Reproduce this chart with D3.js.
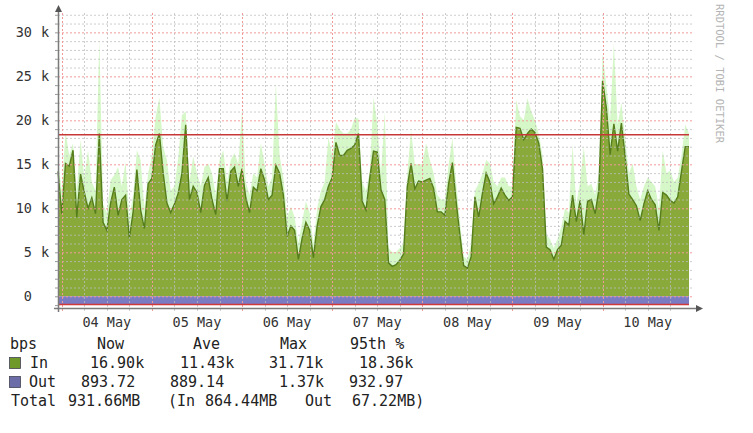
<!DOCTYPE html>
<html><head><meta charset="utf-8">
<script src="https://cdn.jsdelivr.net/npm/d3@7"></script>
<style>html,body{margin:0;padding:0;background:#fff;}svg{display:block;}</style>
</head><body>
<script>
// ---- data (values in kbps, hourly samples from 03 May 23:00) ----
const startTime = Date.UTC(2023, 4, 3, 23, 0);
const stepHours = 1;
const inAvg = [
 14.2, 9.4, 15.1, 14.8, 16.6, 9.0, 13.9, 11.8, 10.0, 11.2, 9.4, 18.5,
 8.4, 7.5, 10.6, 12.4, 9.2, 11.0, 11.5, 6.6, 9.6, 14.4, 9.8, 7.7,
 12.8, 13.4, 17.2, 18.5, 14.0, 10.6, 9.5, 10.5, 11.7, 14.0, 19.5, 11.0,
 12.5, 11.8, 9.5, 12.6, 13.5, 11.0, 9.3, 14.5, 14.5, 10.8, 14.2, 14.7,
 12.5, 14.5, 11.2, 9.5, 12.4, 12.0, 14.5, 13.2, 11.0, 11.5, 14.9, 14.0,
 11.5, 6.8, 8.0, 7.5, 4.2, 6.6, 8.4, 7.5, 4.4, 8.0, 10.2, 11.0,
 12.5, 13.5, 17.5, 16.0, 16.0, 16.6, 16.8, 17.2, 18.5, 10.8, 9.8, 13.4,
 16.5, 16.4, 12.1, 11.0, 3.8, 3.4, 3.6, 4.1, 4.8, 12.5, 15.1, 12.2,
 13.1, 13.0, 13.2, 13.4, 12.3, 9.6, 9.6, 9.2, 12.8, 15.2, 10.8, 7.0,
 3.5, 3.2, 4.5, 11.3, 9.0, 11.7, 14.0, 13.0, 10.5, 11.3, 12.3, 11.5,
 10.9, 11.3, 19.2, 19.1, 17.8, 18.5, 19.0, 18.6, 17.4, 14.5, 5.6, 5.3,
 4.2, 5.3, 5.8, 8.5, 8.1, 11.5, 8.5, 10.9, 7.0, 10.8, 11.0, 9.4,
 12.1, 24.5, 21.4, 16.1, 19.6, 16.5, 19.7, 15.9, 11.6, 11.0, 10.3, 8.6,
 10.5, 12.0, 11.0, 10.4, 7.5, 11.8, 11.5, 10.9, 10.6, 11.3, 14.2, 17.0,
 17.0
];
const inMax = [
 15.5, 12.0, 18.7, 16.0, 17.4, 12.0, 17.8, 13.5, 16.6, 13.0, 12.0, 29.3,
 10.5, 9.5, 13.2, 13.8, 14.7, 12.5, 15.3, 9.0, 11.5, 16.6, 15.5, 10.0,
 14.0, 16.0, 20.4, 22.6, 17.0, 15.5, 12.0, 12.5, 15.7, 20.6, 21.0, 13.0,
 15.9, 14.0, 12.5, 14.7, 15.1, 14.0, 11.5, 15.5, 16.6, 13.0, 15.5, 16.3,
 15.0, 21.2, 13.0, 11.5, 14.0, 13.5, 17.4, 15.0, 12.5, 13.5, 24.2, 16.0,
 13.5, 9.0, 10.2, 9.0, 6.0, 8.5, 10.8, 9.5, 6.0, 10.0, 12.0, 13.0,
 18.1, 16.0, 19.8, 19.0, 18.5, 18.5, 19.0, 20.3, 20.2, 13.0, 12.0, 14.2,
 22.6, 19.7, 14.0, 21.0, 5.5, 5.0, 5.0, 5.5, 6.0, 14.0, 18.9, 15.0,
 15.0, 15.0, 17.4, 15.5, 14.0, 11.5, 11.0, 11.0, 15.0, 18.0, 13.0, 8.5,
 4.5, 4.2, 6.0, 12.0, 12.8, 14.0, 15.5, 15.1, 13.0, 12.5, 13.5, 13.5,
 12.5, 12.5, 22.3, 20.5, 20.0, 22.5, 21.0, 20.0, 18.5, 16.0, 7.0, 6.5,
 5.5, 6.5, 7.9, 10.0, 9.5, 17.2, 10.5, 13.0, 17.0, 12.5, 12.8, 11.5,
 14.0, 27.6, 24.0, 20.0, 28.8, 19.5, 22.0, 18.0, 14.0, 15.1, 12.5, 11.0,
 12.5, 13.5, 13.0, 12.5, 10.0, 16.6, 14.0, 14.3, 13.0, 13.5, 16.0, 19.5,
 18.5
];
const outStepHours = 12;
const outVals = [0.88, 0.89, 0.90, 0.88, 0.89, 0.89, 0.90, 0.88, 0.89, 0.90, 0.89, 0.88, 0.89, 0.90, 0.89];
const in95 = 18.36;
const out95 = 0.933;
const yTickValues = [0, 5, 10, 15, 20, 25, 30];
const yTickLabels = ["0", "5", "10", "15", "20", "25", "30"];
const dayLabels = ["04 May", "05 May", "06 May", "07 May", "08 May", "09 May", "10 May"];
const legendHeader = ["bps", "Now", "Ave", "Max", "95th %"];
const legendIn = ["In", "16.90k", "11.43k", "31.71k", "18.36k"];
const legendOut = ["Out", "893.72", "889.14", "1.37k", "932.97"];
const legendTotal = ["Total", "931.66MB", "(In", "864.44MB", "Out", "67.22MB)"];
const watermark = "RRDTOOL / TOBI OETIKER";

// ---- drawing ----
const W = 753, H = 433;
const svg = d3.select("body").append("svg").attr("width", W).attr("height", H)
  .style("font-family", "'DejaVu Sans Mono', monospace");
svg.append("rect").attr("width", W).attr("height", H).attr("fill", "#fff");

const HOUR = 3600e3;
const x = d3.scaleUtc().domain([new Date(startTime), new Date(startTime + 168 * HOUR)]).range([58, 689]);
const y = d3.scaleLinear().domain([-1.33, 32.2]).range([308, 13]);

const inPts = inAvg.map((v, i) => ({t: new Date(startTime + i * stepHours * HOUR), v, m: inMax[i]}));
const outPts = outVals.map((v, i) => ({t: new Date(startTime + i * outStepHours * HOUR), v}));

const gPlot = svg.append("g");
// max (light green)
gPlot.append("path").datum(inPts)
  .attr("d", d3.area().x(d => x(d.t)).y0(y(0)).y1(d => y(d.m)))
  .attr("fill", "#d6f8c8");
// avg area
gPlot.append("path").datum(inPts)
  .attr("d", d3.area().x(d => x(d.t)).y0(y(0)).y1(d => y(d.v)))
  .attr("fill", "#89aa3b");
gPlot.append("path").datum(inPts)
  .attr("d", d3.line().x(d => x(d.t)).y(d => y(d.v)))
  .attr("fill", "none").attr("stroke", "#557d1c").attr("stroke-width", 1.4);
// out (negative)
gPlot.append("path").datum(outPts)
  .attr("d", d3.area().x(d => x(d.t)).y0(y(0)).y1(d => y(-d.v)))
  .attr("fill", "#7b7bc4");

// grid
const gGrid = svg.append("g");
const xL = 58, xR = 694;
d3.range(-0, 33).forEach(k => {
  if (k % 5 === 0) return;
  gGrid.append("line").attr("x1", xL).attr("x2", xR).attr("y1", y(k) + 0.5).attr("y2", y(k) + 0.5)
    .attr("stroke", "#bdbdbd").attr("stroke-width", 1).attr("stroke-dasharray", "2,2").attr("opacity", 0.75);
});
const hourTicks = d3.range(1, 168, 6).map(h => new Date(startTime + h * HOUR));
hourTicks.forEach(t => {
  const mid = t.getUTCHours() === 0;
  if (mid) return;
  gGrid.append("line").attr("x1", Math.round(x(t)) + 0.5).attr("x2", Math.round(x(t)) + 0.5).attr("y1", 13).attr("y2", 312)
    .attr("stroke", "#bdbdbd").attr("stroke-width", 1).attr("stroke-dasharray", "2,2").attr("opacity", 0.75);
});
yTickValues.forEach(k => {
  gGrid.append("line").attr("x1", xL).attr("x2", xR).attr("y1", y(k) + 0.5).attr("y2", y(k) + 0.5)
    .attr("stroke", "#f29a9a").attr("stroke-width", 1).attr("stroke-dasharray", "2,2");
});
hourTicks.filter(t => t.getUTCHours() === 0).forEach(t => {
  gGrid.append("line").attr("x1", Math.round(x(t)) + 0.5).attr("x2", Math.round(x(t)) + 0.5).attr("y1", 13).attr("y2", 313)
    .attr("stroke", "#f29a9a").attr("stroke-width", 1).attr("stroke-dasharray", "2,2");
});

// 95th lines
svg.append("line").attr("x1", 58).attr("x2", 689).attr("y1", y(in95)).attr("y2", y(in95))
  .attr("stroke", "#c83737").attr("stroke-width", 1.6);
svg.append("line").attr("x1", 58).attr("x2", 689).attr("y1", y(-out95)).attr("y2", y(-out95))
  .attr("stroke", "#d03a3a").attr("stroke-width", 1.4);

// axes
const axisCol = "#7a7a7a";
svg.append("line").attr("x1", 54).attr("x2", 696).attr("y1", 308.5).attr("y2", 308.5).attr("stroke", axisCol).attr("stroke-width", 1.5);
svg.append("line").attr("x1", 58.5).attr("x2", 58.5).attr("y1", 312).attr("y2", 12).attr("stroke", axisCol).attr("stroke-width", 1.5);
svg.append("path").attr("d", "M696,305 L703,308.5 L696,312 Z").attr("fill", "#555");
svg.append("path").attr("d", "M55,12 L58.5,5 L62,12 Z").attr("fill", "#555");
// y minor ticks
d3.range(-1, 33).forEach(k => {
  svg.append("line").attr("x1", 55).attr("x2", 58).attr("y1", y(k) + 0.5).attr("y2", y(k) + 0.5)
    .attr("stroke", "#999").attr("stroke-width", 1);
});

// y labels
const gY = svg.append("g").attr("fill", "#333").style("font-size", "13.5px");
yTickValues.forEach((k, i) => {
  gY.append("text").attr("x", 32).attr("y", y(k) + 5).attr("text-anchor", "end").text(yTickLabels[i]);
  if (k !== 0) gY.append("text").attr("x", 41).attr("y", y(k) + 5).text("k");
});

// x labels (at noon)
const gX = svg.append("g").attr("fill", "#333").style("font-size", "13.5px");
dayLabels.forEach((lab, i) => {
  const t = new Date(Date.UTC(2023, 4, 4 + i, 12));
  gX.append("text").attr("x", x(t)).attr("y", 327).attr("text-anchor", "middle").text(lab);
});

// watermark
svg.append("text").attr("transform", "translate(716,4) rotate(90)")
  .attr("fill", "#b4b4b4").style("font-size", "10.5px").text(watermark);

// legend
const gL = svg.append("g").attr("fill", "#222").style("font-size", "15px");
const row = (vals, xs, yy) => vals.forEach((s, i) => gL.append("text").attr("x", xs[i]).attr("y", yy).text(s));
row(legendHeader, [10, 97, 193, 280, 350], 349);
row(legendIn, [30, 90, 180, 269, 359], 368);
row(legendOut, [29, 81, 170, 279, 349], 387);
row(legendTotal, [11, 68, 168, 205, 305, 352], 406);
svg.append("rect").attr("x", 9.5).attr("y", 357.5).attr("width", 11).attr("height", 11)
  .attr("fill", "#6f9a2a").attr("stroke", "#445").attr("stroke-width", 0.8);
svg.append("rect").attr("x", 9.5).attr("y", 376.5).attr("width", 11).attr("height", 11)
  .attr("fill", "#6c6ca8").attr("stroke", "#445").attr("stroke-width", 0.8);
</script>
</body></html>
